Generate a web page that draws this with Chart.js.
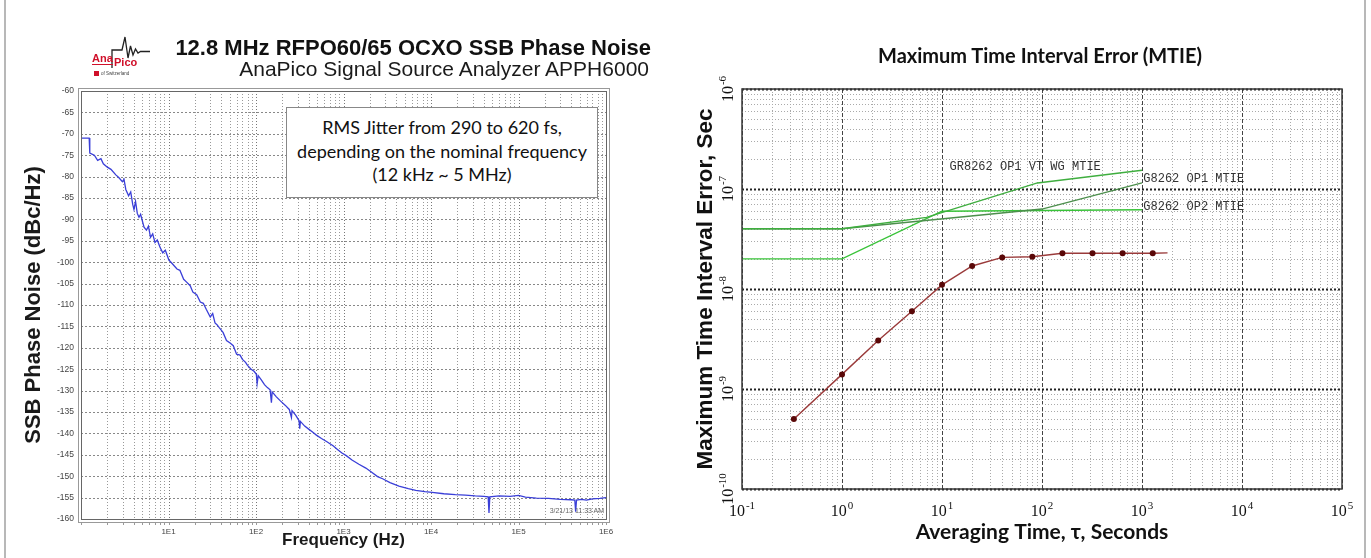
<!DOCTYPE html>
<html>
<head>
<meta charset="utf-8">
<title>OCXO Phase Noise and MTIE</title>
<script src="https://cdn.jsdelivr.net/npm/chart.js@4.4.1/dist/chart.umd.min.js"></script>
<style>
  html, body { margin: 0; padding: 0; background: #fff; }
  body { width: 1371px; height: 558px; position: relative; overflow: hidden; font-family: "Liberation Sans", Arial, sans-serif; color: #111; }
  .edge { position: absolute; top: 0; width: 2px; height: 558px; background: #b8b8b8; }
  canvas { position: absolute; top: 0; }
  #pn { left: 0; }
  #mtie { left: 680px; }
  .pn-title { position: absolute; right: 720px; top: 35px; font: bold 22px "Liberation Sans", Arial, sans-serif; white-space: nowrap; }
  .pn-sub { position: absolute; right: 722px; top: 57px; font: 21px "Liberation Sans", Arial, sans-serif; white-space: nowrap; color: #1a1a1a; }
  .logo { position: absolute; left: 92px; top: 36px; width: 60px; height: 44px; }
  .logo svg { position: absolute; left: 0; top: 0; }
  .logo .ana, .logo .pico { position: absolute; font: bold 11px "Liberation Sans", Arial, sans-serif; color: #d0102a; line-height: 11px; }
  .logo .ana { left: 0; top: 17px; border-bottom: 1.5px solid #d0102a; }
  .logo .pico { left: 22px; top: 21px; }
  .logo .swiss { position: absolute; left: 2px; top: 35px; font: 4.5px "Liberation Sans", Arial, sans-serif; color: #444; white-space: nowrap; }
  .logo .swiss i { display: inline-block; width: 5px; height: 5px; background: #d0102a; margin-right: 2px; vertical-align: -1px; }
  .jitter { position: absolute; left: 286px; top: 107px; width: 312px; height: 91px; border: 1px solid #888; background: #fff;
            font: 18px Lato, "Open Sans", sans-serif; text-align: center; line-height: 23.5px; padding-top: 8px; box-sizing: border-box; color: #111; }
  .stamp { position: absolute; left: 540px; top: 507px; width: 64px; text-align: right; font: 7px "Liberation Sans", Arial, sans-serif; color: #666; white-space: nowrap; }
  .mtie-title { position: absolute; left: 680px; width: 720px; top: 43px; text-align: center; font: bold 20px Lato, "Open Sans", sans-serif; }
</style>
</head>
<body>
<div class="edge" style="left:4px"></div>
<div class="edge" style="left:1364px"></div>

<canvas id="pn" width="680" height="558"></canvas>
<canvas id="mtie" width="691" height="558"></canvas>

<div class="logo">
  <svg width="60" height="34" viewBox="0 0 60 34"><path d="M20 32 V14 H30 L33 1 L36 22 L38.5 10 L41 19 L43.5 13 L46 17 L48.5 15.5 H58" fill="none" stroke="#222" stroke-width="1.3"/></svg>
  <span class="ana">Ana</span><span class="pico">Pico</span>
  <div class="swiss"><i></i>of Switzerland</div>
</div>
<div class="pn-title">12.8 MHz RFPO60/65 OCXO SSB Phase Noise</div>
<div class="pn-sub">AnaPico Signal Source Analyzer APPH6000</div>
<div class="jitter">RMS Jitter from 290 to 620 fs,<br>depending on the nominal frequency<br>(12 kHz ~ 5 MHz)</div>
<div class="stamp">3/21/13 11:33 AM</div>
<div class="mtie-title">Maximum Time Interval Error (MTIE)</div>

<script>
// ---- SSB phase noise trace (APPH6000 screenshot) ----
const freqHz = [1, 1.24, 1.26, 1.42, 1.55, 1.69, 1.8, 2.0, 2.2, 2.5, 2.7, 2.97, 3.1, 3.25, 3.5, 3.7, 3.9, 4.03, 4.2, 4.4,
  4.6, 4.8, 5.25, 5.6, 5.9, 6.23, 6.6, 7.0, 7.44, 8.0, 8.6, 9.2, 10.1, 11, 12.5, 13.5, 14.9, 16, 17.7, 19,
  21, 23.1, 25, 27, 30, 32, 34, 35.8, 38, 42, 46, 50.6, 55, 60, 65.8, 70, 76, 80, 88, 95,
  101, 103, 106, 115, 125, 135, 145, 150, 153, 170, 190, 215, 240, 254, 258, 285, 310, 316, 322, 360,
  400, 450, 490, 560, 640, 700, 760, 860, 960, 1075, 1250, 1500, 1800, 2100, 2450, 2800, 3400, 4300, 5500, 6700,
  8500, 10300, 14000, 19000, 24700, 32000, 40000, 45000, 46000, 47000, 60000, 80000, 100000, 120000, 160000, 220000, 300000, 400000, 440000, 450000,
  460000, 520000, 600000, 700000, 850000, 1000000];
const noiseDbc = [-71, -71, -74.5, -75, -76.2, -75.8, -77, -77.8, -78.3, -79.6, -80.2, -81.2, -80.6, -83, -84.5, -83.6, -86.5, -87.7, -85.8, -88.6,
  -89.5, -88.8, -91.8, -92.5, -91.6, -94.2, -93.4, -95.4, -94.8, -96.5, -97.8, -97.2, -99.5, -100.3, -101.6, -101.9, -104, -104.6, -105.5, -107,
  -107.6, -109.3, -109.6, -111, -112.8, -112, -114.2, -114.6, -115.3, -116.4, -118.3, -118.9, -119.5, -121.5, -121.7, -122.7, -123.4, -124.1, -125, -125.5,
  -126.2, -128.4, -126.5, -127.5, -128.6, -129.3, -129.8, -132.8, -130.3, -131.4, -132.4, -133.4, -134.4, -136.3, -134.7, -135.8, -137, -138.9, -137.2, -138.3,
  -139, -139.8, -140.4, -141.2, -141.9, -142.4, -142.9, -143.8, -144.6, -145.2, -146.2, -147.2, -148.1, -149.1, -150.1, -150.6, -151.5, -152.3, -152.9, -153.3,
  -153.6, -153.8, -154.1, -154.3, -154.4, -154.6, -154.7, -154.8, -158.6, -154.8, -154.6, -154.7, -154.5, -154.9, -155.1, -155.2, -155.4, -155.5, -155.6, -158.3,
  -155.6, -155.4, -155.6, -155.3, -155.2, -155];
const pnYTicks = { min: -160, max: -60, step: 5 };
const pnDecades = [0, 6];          // 1 Hz .. 1 MHz

// ---- MTIE (right panel) ----
const mtieTau = [0.33, 1, 2.3, 5, 10, 20, 40, 80, 160, 320, 640, 1280, 1800];
const mtieSec = [5.0e-10, 1.4e-9, 3.05e-9, 6.0e-9, 1.1e-8, 1.7e-8, 2.07e-8, 2.1e-8, 2.28e-8, 2.28e-8, 2.28e-8, 2.28e-8, 2.3e-8];
const vtwgTau = [0.1, 1, 7, 90, 1000];
const vtwgSec = [4.0e-8, 4.0e-8, 5.2e-8, 1.15e-7, 1.54e-7];
const op1Tau = [0.1, 1, 100, 1000];
const op1Sec = [4.0e-8, 4.0e-8, 6.3e-8, 1.15e-7];
const op2Tau = [0.1, 1, 10, 1000];
const op2Sec = [2.0e-8, 2.0e-8, 6.0e-8, 6.2e-8];
const tauDecades = [-1, 5];
const secDecades = [-10, -6];
const maskLabels = ['GR8262 OP1 VT WG MTIE', 'G8262 OP1 MTIE', 'G8262 OP2 MTIE'];
const maskLabelAt = [[11.9, 1.65e-7], [1030, 1.27e-7], [1030, 6.7e-8]];

Chart.defaults.font.family = '"Liberation Sans", Arial, sans-serif';

function logTicks(e0, e1) {
  const out = [];
  for (let e = e0; e < e1; e++) {
    for (let m = 1; m <= 9; m++) out.push(+(m * Math.pow(10, e)).toPrecision(3));
  }
  out.push(Math.pow(10, e1));
  return out;
}
function isDecade(v) {
  const e = Math.round(Math.log10(v));
  return Math.abs(v / Math.pow(10, e) - 1) < 1e-6;
}
function pts(xs, ys) { return xs.map((x, i) => ({ x: x, y: ys[i] })); }

// grid + frame drawn by hand so every line can get its own dash style
function gridPlugin(styleFor, frame) {
  return {
    id: 'handGrid',
    beforeDatasetsDraw(chart) {
      const { ctx, chartArea: a } = chart;
      ctx.save();
      ['x', 'y'].forEach(axis => {
        const s = chart.scales[axis];
        s.ticks.forEach(t => {
          const st = styleFor(axis, t.value);
          if (!st) return;
          const p = Math.round(s.getPixelForValue(t.value)) + 0.5;
          ctx.beginPath();
          ctx.setLineDash(st.dash);
          ctx.lineWidth = st.width;
          ctx.strokeStyle = st.color;
          if (axis === 'x') { ctx.moveTo(p, a.top); ctx.lineTo(p, a.bottom); }
          else { ctx.moveTo(a.left, p); ctx.lineTo(a.right, p); }
          ctx.stroke();
        });
      });
      ctx.restore();
    },
    afterDatasetsDraw(chart) {
      const { ctx, chartArea: a } = chart;
      ctx.save();
      ctx.setLineDash([]);
      frame(ctx, a, chart);
      ctx.restore();
    }
  };
}

// ---------- left: phase noise ----------
new Chart(document.getElementById('pn'), {
  type: 'line',
  data: {
    datasets: [{
      data: pts(freqHz, noiseDbc),
      borderColor: '#3a3fd8',
      borderWidth: 1.3,
      pointRadius: 0,
      tension: 0
    }]
  },
  options: {
    responsive: false,
    animation: false,
    layout: { padding: { left: 18, right: 74, top: 91, bottom: 0 } },
    plugins: { legend: { display: false }, tooltip: { enabled: false } },
    scales: {
      x: {
        type: 'logarithmic',
        min: Math.pow(10, pnDecades[0]),
        max: Math.pow(10, pnDecades[1]),
        afterBuildTicks: s => { s.ticks = logTicks(pnDecades[0], pnDecades[1]).map(v => ({ value: v })); },
        afterFit: s => { s.height = 39; },
        grid: { display: false, drawTicks: false },
        border: { display: false },
        ticks: {
          autoSkip: false, maxRotation: 0, padding: 8, color: '#444', font: { size: 8 },
          callback: v => (isDecade(v) && v >= 10) ? '1E' + Math.round(Math.log10(v)) : ''
        },
        title: { display: true, text: 'Frequency (Hz)', color: '#1a1a1a', font: { size: 17, weight: 'bold' }, padding: { top: 0, bottom: 7 } }
      },
      y: {
        min: pnYTicks.min,
        max: pnYTicks.max,
        afterFit: s => { s.width = 63; },
        grid: { display: false, drawTicks: false },
        border: { display: false },
        ticks: { stepSize: pnYTicks.step, autoSkip: false, padding: 7, color: '#444', font: { size: 8.5 } },
        title: { display: true, text: 'SSB Phase Noise (dBc/Hz)', color: '#1a1a1a', font: { size: 22, weight: 'bold' }, padding: { top: 3, bottom: 0 } }
      }
    }
  },
  plugins: [gridPlugin(
    (axis, v) => axis === 'x'
      ? { color: isDecade(v) ? '#777' : '#999', dash: [1, 2], width: 1 }
      : { color: '#888', dash: [2, 2], width: 1 },
    (ctx, a, chart) => {
      ctx.strokeStyle = '#666';
      ctx.lineWidth = 1;
      ctx.strokeRect(a.left + 0.5, a.top + 0.5, a.right - a.left, a.bottom - a.top);
      ctx.strokeStyle = '#999';
      ctx.strokeRect(a.left - 2.5, a.top - 2.5, a.right - a.left + 6, a.bottom - a.top + 6);
      // small tick ruler hanging under the frame
      const s = chart.scales.x;
      ctx.strokeStyle = '#999';
      ctx.beginPath();
      s.ticks.forEach(t => {
        const p = Math.round(s.getPixelForValue(t.value)) + 0.5;
        ctx.moveTo(p, a.bottom + 3.5); ctx.lineTo(p, a.bottom + 6);
      });
      ctx.stroke();
    }
  )]
});

// ---------- right: MTIE ----------
function drawPow(ctx, exp, base, small) {
  const fam = '"Liberation Serif", "DejaVu Serif", serif';
  ctx.font = base + 'px ' + fam;
  const wb = ctx.measureText('10').width;
  ctx.font = small + 'px ' + fam;
  const we = ctx.measureText(exp).width;
  const x0 = -(wb + we + 1) / 2;
  ctx.font = base + 'px ' + fam;
  ctx.fillText('10', x0, 0);
  ctx.font = small + 'px ' + fam;
  ctx.fillText(exp, x0 + wb + 1, -base * 0.42);
}

const mtieText = {
  id: 'mtieText',
  afterDraw(chart) {
    const { ctx, chartArea: a } = chart;
    const sx = chart.scales.x, sy = chart.scales.y;
    ctx.save();
    ctx.fillStyle = '#111';
    ctx.textAlign = 'left';
    ctx.textBaseline = 'alphabetic';
    for (let e = tauDecades[0]; e <= tauDecades[1]; e++) {
      ctx.save();
      ctx.translate(sx.getPixelForValue(Math.pow(10, e)), a.bottom + 27);
      drawPow(ctx, String(e), 16, 11);
      ctx.restore();
    }
    for (let e = secDecades[0]; e <= secDecades[1]; e++) {
      ctx.save();
      ctx.translate(a.left - 9, sy.getPixelForValue(Math.pow(10, e)));
      ctx.rotate(-Math.PI / 2);
      drawPow(ctx, String(e), 16, 11);
      ctx.restore();
    }
    ctx.font = '12px "Liberation Mono", "DejaVu Sans Mono", monospace';
    ctx.fillStyle = '#333';
    ctx.textBaseline = 'middle';
    maskLabels.forEach((txt, i) => {
      ctx.fillText(txt, sx.getPixelForValue(maskLabelAt[i][0]), sy.getPixelForValue(maskLabelAt[i][1]));
    });
    ctx.restore();
  }
};

new Chart(document.getElementById('mtie'), {
  type: 'line',
  data: {
    datasets: [
      { data: pts(vtwgTau, vtwgSec), borderColor: '#3fae3f', borderWidth: 1.4, pointRadius: 0 },
      { data: pts(op1Tau, op1Sec), borderColor: '#4c8f4c', borderWidth: 1.4, pointRadius: 0 },
      { data: pts(op2Tau, op2Sec), borderColor: '#39c339', borderWidth: 1.4, pointRadius: 0 },
      {
        data: pts(mtieTau, mtieSec),
        borderColor: '#9a3a3a',
        borderWidth: 1.4,
        pointRadius: mtieTau.map((t, i) => i < mtieTau.length - 1 ? 3 : 0),
        pointBackgroundColor: '#5a0808',
        pointBorderColor: '#5a0808',
        pointBorderWidth: 0
      }
    ]
  },
  options: {
    responsive: false,
    animation: false,
    layout: { padding: { left: 8, right: 29, top: 89, bottom: 0 } },
    plugins: { legend: { display: false }, tooltip: { enabled: false } },
    scales: {
      x: {
        type: 'logarithmic',
        min: Math.pow(10, tauDecades[0]),
        max: Math.pow(10, tauDecades[1]),
        afterBuildTicks: s => { s.ticks = logTicks(tauDecades[0], tauDecades[1]).map(v => ({ value: v })); },
        afterFit: s => { s.height = 69; },
        grid: { display: false },
        border: { display: false },
        ticks: { display: false, autoSkip: false },
        title: { display: true, text: 'Averaging Time, \u03c4, Seconds', color: '#111', font: { family: 'Lato, "Open Sans", sans-serif', size: 21, weight: 'bold' }, padding: { top: 0, bottom: 13 } }
      },
      y: {
        type: 'logarithmic',
        min: Math.pow(10, secDecades[0]),
        max: Math.pow(10, secDecades[1]),
        afterBuildTicks: s => { s.ticks = logTicks(secDecades[0], secDecades[1]).map(v => ({ value: v })); },
        afterFit: s => { s.width = 54; },
        grid: { display: false },
        border: { display: false },
        ticks: { display: false, autoSkip: false },
        title: { display: true, text: 'Maximum Time Interval Error, Sec', color: '#111', font: { size: 22.5, weight: 'bold' }, padding: { top: 4, bottom: 0 } }
      }
    }
  },
  plugins: [gridPlugin(
    (axis, v) => {
      if (axis === 'x') return isDecade(v) ? { color: '#444', dash: [4, 2], width: 1 } : { color: '#aaa', dash: [1, 2], width: 1 };
      return isDecade(v) ? { color: '#222', dash: [2, 2], width: 2 } : { color: '#aaa', dash: [1, 2], width: 1 };
    },
    (ctx, a) => {
      ctx.strokeStyle = '#3a3a3a';
      ctx.lineWidth = 1.5;
      ctx.strokeRect(a.left, a.top, a.right - a.left, a.bottom - a.top);
    }
  ), mtieText]
});
</script>
</body>
</html>
